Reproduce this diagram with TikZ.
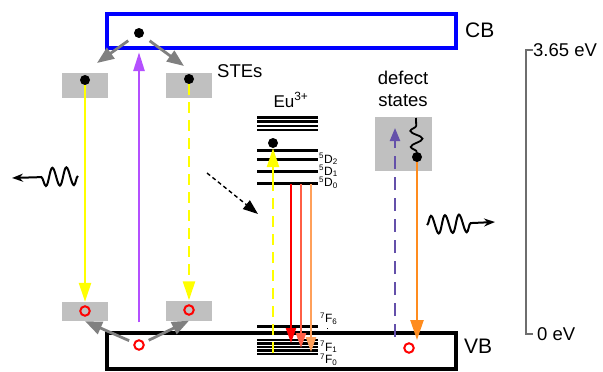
\documentclass[tikz,border=0pt]{standalone}
\usepackage{fontspec}
\setmainfont{Liberation Sans}
\usepackage{xcolor}
\usepackage{tikz}
\usetikzlibrary{arrows.meta, positioning, decorations.pathmorphing}
\definecolor{cbblue}{RGB}{0, 0, 255}
\definecolor{trapgray}{RGB}{192, 192, 192}
\definecolor{pumpviolet}{RGB}{180, 80, 255}
\definecolor{steyellow}{RGB}{255, 255, 0}
\definecolor{defectpurple}{RGB}{100, 80, 170}
\definecolor{emitorange}{RGB}{255, 140, 30}
\definecolor{eured}{RGB}{255, 0, 0}
\definecolor{eusalmon}{RGB}{255, 95, 70}
\definecolor{eupeach}{RGB}{255, 160, 90}
\definecolor{scalegray}{RGB}{110, 110, 110}

\begin{document}
\begin{tikzpicture}[
    x=1pt, y=-1pt,
    band/.style      = {rectangle, draw, line width=3.2pt, minimum width=349pt,
                        inner sep=0pt},
    trapbox/.style   = {rectangle, fill=trapgray, minimum width=46pt, inner sep=0pt},
    electron/.style  = {circle, fill=black, minimum size=10pt, inner sep=0pt},
    hole/.style      = {circle, draw=red, line width=2pt, minimum size=9.5pt,
                        inner sep=0pt},
    bandtext/.style  = {font=\fontsize{21}{24}\selectfont, anchor=west, inner sep=0pt},
    midtext/.style   = {font=\fontsize{18.5}{22}\selectfont, align=center, inner sep=0pt},
    term/.style      = {font=\fontsize{12}{12}\selectfont, anchor=west, inner sep=0pt},
    eulevel/.style   = {line width=3pt},
    hop/.style       = {-{Triangle[length=17pt, width=13pt]}, line width=2.8pt, color=gray},
    yarr/.style      = {-{Triangle[length=19pt, width=12pt]}, line width=2.4pt, color=steyellow},
    ydash/.style     = {yarr, dash pattern=on 11pt off 7pt},
    pumparr/.style   = {-{Triangle[length=19pt, width=11pt]}, line width=2.8pt, color=pumpviolet},
    redarr/.style    = {-{Triangle[length=15pt, width=10pt]}, line width=2.2pt},
    xfer/.style      = {-{Triangle[length=15pt, width=11pt]}, line width=1.4pt,
                        dash pattern=on 4pt off 3pt},
    defarr/.style    = {-{Triangle[length=13pt, width=10pt]}, line width=2.2pt,
                        color=defectpurple, dash pattern=on 13pt off 8pt},
    orarr/.style     = {-{Triangle[length=20pt, width=13pt]}, line width=2.4pt, color=emitorange},
    wave/.style      = {decorate, decoration={snake, amplitude=9pt, segment length=14pt,
                        post length=24pt}, line width=2pt, -{Stealth[length=11pt, width=8pt]}},
    squig/.style     = {decorate, decoration={snake, amplitude=6pt, segment length=16pt},
                        line width=1.8pt},
    scaleline/.style = {line width=1.8pt, color=scalegray},
  ]
  \useasboundingbox (0,0) rectangle (603,372);

  %% Bands
  \node[band, draw=cbblue, minimum height=34pt] (cb) at (281.5,31) {};
  \node[band, minimum height=36pt] (vb) at (281.5,351) {};
  \node[bandtext] (cblabel) at (465,30) {CB};
  \node[bandtext] (vblabel) at (464,346) {VB};

  %% STE boxes
  \node[trapbox, minimum height=25pt] (steUL) at (85,85.5) {};
  \node[trapbox, minimum height=25pt] (steUR) at (189,85.5) {};
  \node[trapbox, minimum height=19pt] (steLL) at (85,311.5) {};
  \node[trapbox, minimum height=20pt] (steLR) at (189,310.5) {};
  \node[midtext, anchor=west] (stes) at (217,71) {STEs};

  %% Defect states
  \node[trapbox, minimum width=57pt, minimum height=54pt] (defbox) at (403.5,144) {};
  \node[midtext] (deflabel) at (403,89) {defect\\states};

  %% Carriers
  \node[electron] (eCB)  at (139,33) {};
  \node[electron] (eUL)  at (85,80) {};
  \node[electron] (eUR)  at (189,79) {};
  \node[electron] (eEu)  at (273,143) {};
  \node[electron] (eDef) at (417,157) {};
  \node[hole] (hVB)  at (139,345) {};
  \node[hole] (hLL)  at (85,311) {};
  \node[hole] (hLR)  at (189,310) {};
  \node[hole] (hDef) at (409,348) {};

  %% Eu3+ levels
  \node[midtext, font=\fontsize{17}{20}\selectfont] (eulabel) at (291,100) {Eu\textsuperscript{3+}};
  \foreach \y in {117.5,121.7,125.9,130.1}
    \draw[eulevel, line width=2.5pt] (257,\y) -- (318,\y);
  \foreach \y in {150,159,171,183}
    \draw[eulevel] (257,\y) -- (318,\y);
  \draw[eulevel] (257,326) -- (318,326);
  \foreach \y in {340,343.5,347,350.5,354}
    \draw[eulevel, line width=2.2pt] (257,\y) -- (318,\y);
  \node[term] (d2) at (319,159) {\textsuperscript{5}D\textsubscript{2}};
  \node[term] (d1) at (319,171) {\textsuperscript{5}D\textsubscript{1}};
  \node[term] (d0) at (319,183) {\textsuperscript{5}D\textsubscript{0}};
  \node[term] (f6) at (320,319) {\textsuperscript{7}F\textsubscript{6}};
  \node[term] (f1) at (320,347) {\textsuperscript{7}F\textsubscript{1}};
  \node[term] (f0) at (320,360) {\textsuperscript{7}F\textsubscript{0}};
  \draw[dotted, line width=0.8pt] (f6.south west) ++(7,3) -- ++(0,7);

  %% Excitation and trapping
  \draw[pumparr, shorten <=17pt, shorten >=14pt] (hVB) -- (eCB);
  \coordinate (tipUL) at (97,63);
  \coordinate (tipUR) at (184,66);
  \draw[hop, shorten <=8pt] (eCB) -- (tipUL);
  \draw[hop, shorten <=8pt] (eCB) -- (tipUR);
  \draw[hop, shorten <=5pt] (hVB) -- (steLL.south);
  \draw[hop, shorten <=5pt] (hVB) -- (steLR.south);

  %% STE emission
  \draw[yarr] (eUL) -- (steLL.north);
  \draw[ydash] (eUR) -- (steLR.north);
  \coordinate (wavL1) at (78,176);
  \coordinate (wavL2) at (12,178);
  \draw[wave] (wavL1) -- (wavL2);

  %% Transfer to Eu3+
  \coordinate (xferA) at (207,173);
  \coordinate (xferB) at (258,214);
  \draw[xfer] (xferA) -- (xferB);
  \coordinate (euFoot) at (273,353);
  \coordinate (euMid) at (273,190);
  \draw[steyellow, line width=2.4pt, dash pattern=on 11pt off 7pt] (euFoot) -- (euMid);
  \draw[yarr] (euMid) -- (eEu);

  %% Eu3+ emission
  \coordinate (emA) at (291,184);  \coordinate (fA) at (291,343);
  \coordinate (emB) at (301,184);  \coordinate (fB) at (301,348);
  \coordinate (emC) at (311,184);  \coordinate (fC) at (311,352);
  \draw[redarr, color=eured]   (emA) -- (fA);
  \draw[redarr, color=eusalmon] (emB) -- (fB);
  \draw[redarr, color=eupeach]  (emC) -- (fC);

  %% Defect route
  \coordinate (defFoot) at (395,337);
  \coordinate (defTip)  at (395,128);
  \draw[defarr] (defFoot) -- (defTip);
  \coordinate (sqTop) at (416,118);
  \draw[squig] (eDef) -- (sqTop);
  \coordinate (orTip) at (417,340);
  \draw[orarr] (eDef) -- (orTip);
  \coordinate (wavR1) at (427,225);
  \coordinate (wavR2) at (495,222);
  \draw[wave] (wavR1) -- (wavR2);

  %% Energy scale
  \node[midtext, anchor=west] (etop) at (533,50) {3.65 eV};
  \node[midtext, anchor=west] (ebot) at (537,334) {0 eV};
  \draw[scaleline] (etop.west) -- ++(-7,0) |- ([xshift=-4pt]ebot.west);

\end{tikzpicture}
\end{document}
